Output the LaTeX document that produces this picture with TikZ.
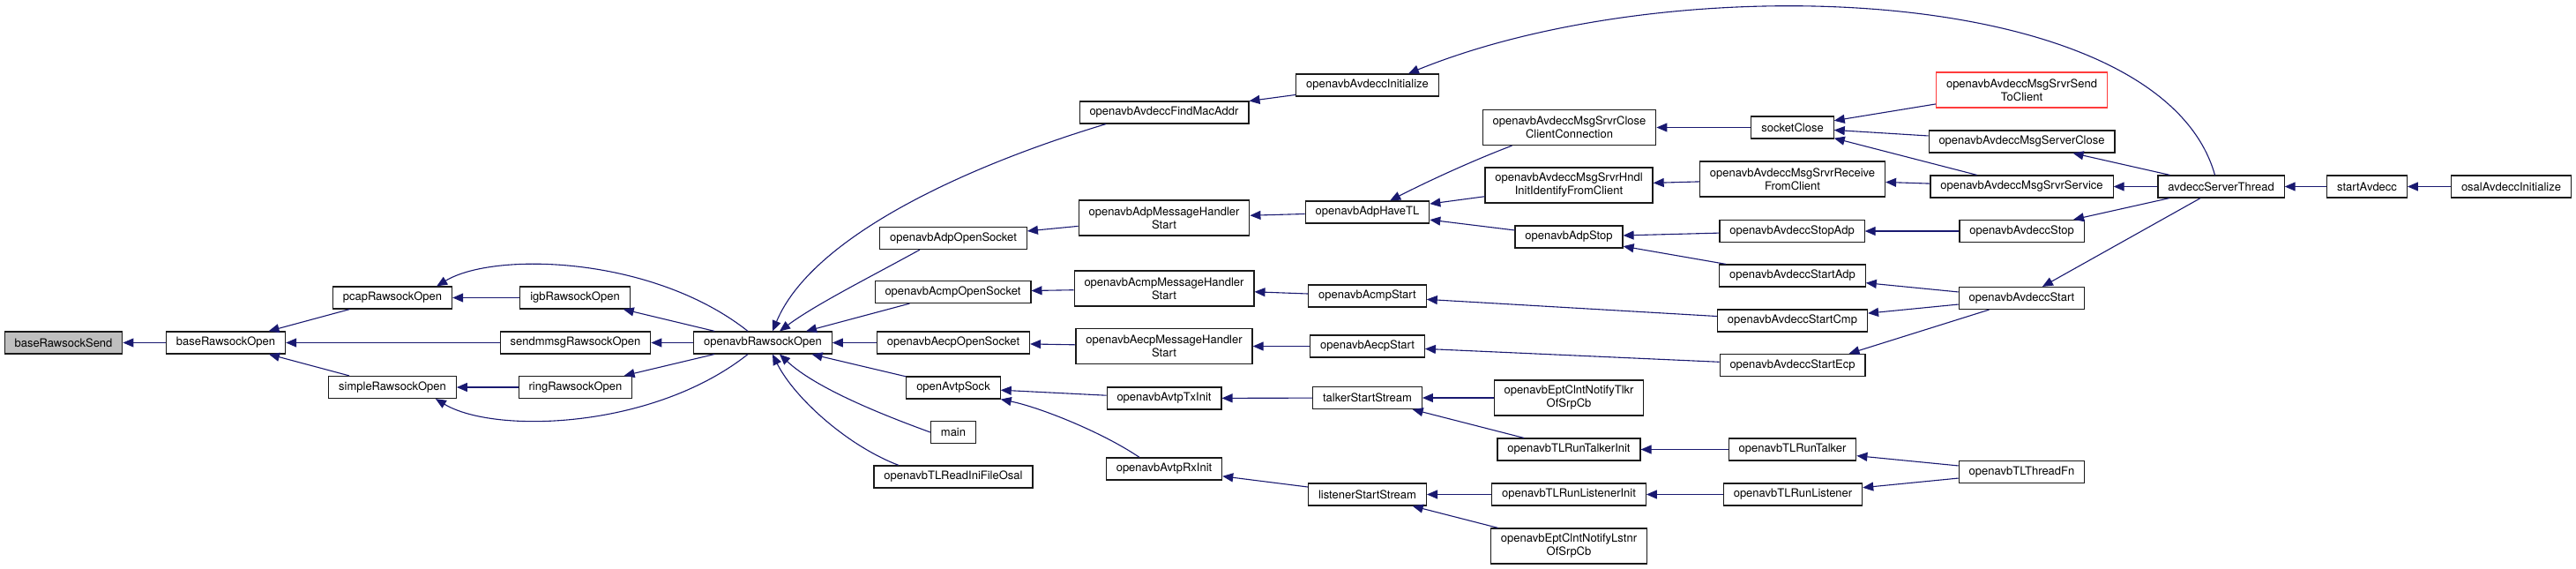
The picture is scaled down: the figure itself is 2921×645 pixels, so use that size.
\documentclass[tikz,border=0pt]{standalone}
\usepackage{fontspec}
\setmainfont{TeX Gyre Heros}
\usetikzlibrary{arrows.meta}
\definecolor{callblue}{HTML}{191970}
\definecolor{truncred}{HTML}{FF3C3C}

\begin{document}
\begin{tikzpicture}[
        x=1pt, y=-1pt,
        % Style for function boxes
        func/.style={
            rectangle, draw=black!90, line width=1.2pt, fill=white,
            minimum height=25pt, inner xsep=11.4pt, inner ysep=0pt,
            align=center, font=\fontsize{13}{15}\selectfont
        },
        % Two-line function boxes
        func2/.style={func, minimum height=40pt},
        % The function the graph is drawn for
        focusfunc/.style={func, fill=black!25},
        % Node whose callers are cut off
        truncfunc/.style={func2, draw=truncred},
        % Call edges (caller -> callee)
        callarrow/.style={draw=callblue, line width=1.1pt, -{Triangle[length=12pt, width=10pt]}}
    ]

        % 1. Canvas
        \useasboundingbox (0,0) rectangle (2921,645);

        % 2. Functions, column by column
        \node[focusfunc] (baseSend) at (72, 388.5) {baseRawsockSend};
        \node[func] (baseOpen)     at (256, 388.5) {baseRawsockOpen};
        \node[func] (pcapOpen)     at (445, 337.5) {pcapRawsockOpen};
        \node[func] (simpleOpen)   at (445, 439)   {simpleRawsockOpen};
        \node[func] (igbOpen)      at (652, 337.5) {igbRawsockOpen};
        \node[func] (sendmmsgOpen) at (652.5, 388.5) {sendmmsgRawsockOpen};
        \node[func] (ringOpen)     at (652.5, 439) {ringRawsockOpen};
        \node[func] (rawsockOpen)  at (865, 388.5) {openavbRawsockOpen};

        \node[func] (adpSocket)  at (1081, 270)   {openavbAdpOpenSocket};
        \node[func] (acmpSocket) at (1080.5, 331) {openavbAcmpOpenSocket};
        \node[func] (aecpSocket) at (1081, 388.5) {openavbAecpOpenSocket};
        \node[func] (avtpSock)   at (1081, 439.5) {openAvtpSock};
        \node[func] (mainFn)     at (1081, 490)   {main};
        \node[func] (readIni)    at (1081, 540.5) {openavbTLReadIniFileOsal};

        \node[func]  (findMac)     at (1320, 127.5) {openavbAvdeccFindMacAddr};
        \node[func2] (adpHandler)  at (1320, 247)   {openavbAdpMessageHandler\\Start};
        \node[func2] (acmpHandler) at (1320, 327)   {openavbAcmpMessageHandler\\Start};
        \node[func2] (aecpHandler) at (1320, 392.5) {openavbAecpMessageHandler\\Start};
        \node[func]  (avtpTx)      at (1320, 451.5) {openavbAvtpTxInit};
        \node[func]  (avtpRx)      at (1320, 531.5) {openavbAvtpRxInit};

        \node[func] (avdeccInit)     at (1550.5, 96.5)  {openavbAvdeccInitialize};
        \node[func] (adpHaveTL)      at (1550.5, 240.5) {openavbAdpHaveTL};
        \node[func] (acmpStart)      at (1550.5, 335.5) {openavbAcmpStart};
        \node[func] (aecpStart)      at (1550.5, 392.5) {openavbAecpStart};
        \node[func] (talkerStream)   at (1550.5, 451)   {talkerStartStream};
        \node[func] (listenerStream) at (1550.5, 560.5) {listenerStartStream};

        \node[func2] (closeClient)     at (1779.5, 144.5) {openavbAvdeccMsgSrvrClose\\ClientConnection};
        \node[func2] (hndlIdentify)    at (1779, 210)     {openavbAvdeccMsgSrvrHndl\\InitIdentifyFromClient};
        \node[func]  (adpStop)         at (1779, 268.5)   {openavbAdpStop};
        \node[func2] (tlkrSrpCb)       at (1779, 451)     {openavbEptClntNotifyTlkr\\OfSrpCb};
        \node[func]  (runTalkerInit)   at (1779, 509.5)   {openavbTLRunTalkerInit};
        \node[func]  (runListenerInit) at (1779, 560.5)   {openavbTLRunListenerInit};
        \node[func2] (lstnrSrpCb)      at (1779, 619)     {openavbEptClntNotifyLstnr\\OfSrpCb};

        \node[func]  (sockClose)   at (2032.5, 144.5) {socketClose};
        \node[func2] (recvClient)  at (2032.5, 203)   {openavbAvdeccMsgSrvrReceive\\FromClient};
        \node[func]  (stopAdp)     at (2032, 262)     {openavbAvdeccStopAdp};
        \node[func]  (startAdp)    at (2032.5, 312.5) {openavbAvdeccStartAdp};
        \node[func]  (startCmp)    at (2032.5, 363.5) {openavbAvdeccStartCmp};
        \node[func]  (startEcp)    at (2032.5, 414)   {openavbAvdeccStartEcp};
        \node[func]  (runTalker)   at (2032.5, 509.5) {openavbTLRunTalker};
        \node[func]  (runListener) at (2033, 560.5)   {openavbTLRunListener};

        \node[truncfunc] (sendClient) at (2292.5, 102) {openavbAvdeccMsgSrvrSend\\ToClient};
        \node[func] (serverClose) at (2292.5, 160.5) {openavbAvdeccMsgServerClose};
        \node[func] (srvrService) at (2292.5, 211.5) {openavbAvdeccMsgSrvrService};
        \node[func] (avdeccStop)  at (2292.5, 262)   {openavbAvdeccStop};
        \node[func] (avdeccStart) at (2292.5, 338)   {openavbAvdeccStart};
        \node[func] (threadFn)    at (2292.5, 535)   {openavbTLThreadFn};

        \node[func] (serverThread) at (2518.5, 211.5) {avdeccServerThread};
        \node[func] (startAvdecc)  at (2684, 211.5)   {startAvdecc};
        \node[func] (osalInit)     at (2847.5, 211.5) {osalAvdeccInitialize};

        % 3. Calls into the raw socket layer
        \draw[callarrow] (baseOpen) -- (baseSend);
        \draw[callarrow] (pcapOpen) -- (baseOpen);
        \draw[callarrow] (sendmmsgOpen) -- (baseOpen);
        \draw[callarrow] (simpleOpen) -- (baseOpen);
        \draw[callarrow] (igbOpen) -- (pcapOpen);
        \draw[callarrow] (ringOpen) -- (simpleOpen);
        \draw[callarrow] ([xshift=-17pt]rawsockOpen.north) .. controls (740,290) and (560,285) .. ([xshift=-18pt]pcapOpen.north east);
        \draw[callarrow] (rawsockOpen) -- (igbOpen);
        \draw[callarrow] (rawsockOpen) -- (sendmmsgOpen);
        \draw[callarrow] (rawsockOpen) -- (ringOpen);
        \draw[callarrow] ([xshift=-17pt]rawsockOpen.south) .. controls (740,487) and (560,492) .. ([xshift=-24pt]simpleOpen.south east);

        % 4. Callers of openavbRawsockOpen
        \draw[callarrow] ([xshift=-66pt]findMac.south) .. controls (1090,190) and (920,270) .. ([xshift=11pt]rawsockOpen.north);
        \draw[callarrow] ([xshift=-38pt]adpSocket.south) .. controls (985,315) and (925,345) .. ([xshift=19pt]rawsockOpen.north);
        \draw[callarrow] (acmpSocket) -- (rawsockOpen);
        \draw[callarrow] (aecpSocket) -- (rawsockOpen);
        \draw[callarrow] (avtpSock) -- (rawsockOpen);
        \draw[callarrow] (mainFn.west) .. controls (1000,470) and (925,440) .. ([xshift=19pt]rawsockOpen.south);
        \draw[callarrow] ([xshift=-62pt]readIni.north) .. controls (960,505) and (900,450) .. ([xshift=11pt]rawsockOpen.south);

        % 5. Next column
        \draw[callarrow] (avdeccInit) -- (findMac);
        \draw[callarrow] (adpHandler) -- (adpSocket);
        \draw[callarrow] (acmpHandler) -- (acmpSocket);
        \draw[callarrow] (aecpHandler) -- (aecpSocket);
        \draw[callarrow] (avtpTx) -- (avtpSock);
        \draw[callarrow] ([xshift=-28pt]avtpRx.north) .. controls (1250,490) and (1180,462) .. (avtpSock.south east);
        \draw[callarrow] (adpHaveTL) -- (adpHandler);
        \draw[callarrow] (acmpStart) -- (acmpHandler);
        \draw[callarrow] (aecpStart) -- (aecpHandler);
        \draw[callarrow] (talkerStream) -- (avtpTx);
        \draw[callarrow] (listenerStream) -- (avtpRx);

        % 6. AVDECC and talker/listener callers
        \draw[callarrow] ([xshift=-65pt]closeClient.south) .. controls (1670,182) and (1620,205) .. (adpHaveTL);
        \draw[callarrow] (hndlIdentify) -- (adpHaveTL);
        \draw[callarrow] (adpStop) -- (adpHaveTL);
        \draw[callarrow] (startCmp) -- (acmpStart);
        \draw[callarrow] (startEcp) -- (aecpStart);
        \draw[callarrow] (tlkrSrpCb) -- (talkerStream);
        \draw[callarrow] (runTalkerInit) -- (talkerStream);
        \draw[callarrow] (runListenerInit) -- (listenerStream);
        \draw[callarrow] (lstnrSrpCb) -- (listenerStream);
        \draw[callarrow] (sockClose) -- (closeClient);
        \draw[callarrow] (recvClient) -- (hndlIdentify);
        \draw[callarrow] (stopAdp) -- (adpStop);
        \draw[callarrow] (startAdp) -- (adpStop);
        \draw[callarrow] (runTalker) -- (runTalkerInit);
        \draw[callarrow] (runListener) -- (runListenerInit);

        \draw[callarrow] (sendClient) -- (sockClose);
        \draw[callarrow] (serverClose) -- (sockClose);
        \draw[callarrow] (srvrService) -- (sockClose);
        \draw[callarrow] (srvrService) -- (recvClient);
        \draw[callarrow] (avdeccStop) -- (stopAdp);
        \draw[callarrow] (avdeccStart) -- (startAdp);
        \draw[callarrow] (avdeccStart) -- (startCmp);
        \draw[callarrow] ([xshift=-37pt]avdeccStart.south) -- ([xshift=-19pt]startEcp.north east);
        \draw[callarrow] (threadFn) -- (runTalker);
        \draw[callarrow] (threadFn) -- (runListener);

        % 7. Server thread and its starters
        \draw[callarrow] ([xshift=-7pt]serverThread.north) .. controls (2450,-20) and (1900,-40) .. ([xshift=-35pt]avdeccInit.north east);
        \draw[callarrow] (serverThread) -- (serverClose);
        \draw[callarrow] (serverThread) -- (srvrService);
        \draw[callarrow] (serverThread) -- (avdeccStop);
        \draw[callarrow] (serverThread) -- (avdeccStart);
        \draw[callarrow] (startAvdecc) -- (serverThread);
        \draw[callarrow] (osalInit) -- (startAvdecc);

    \end{tikzpicture}
\end{document}
